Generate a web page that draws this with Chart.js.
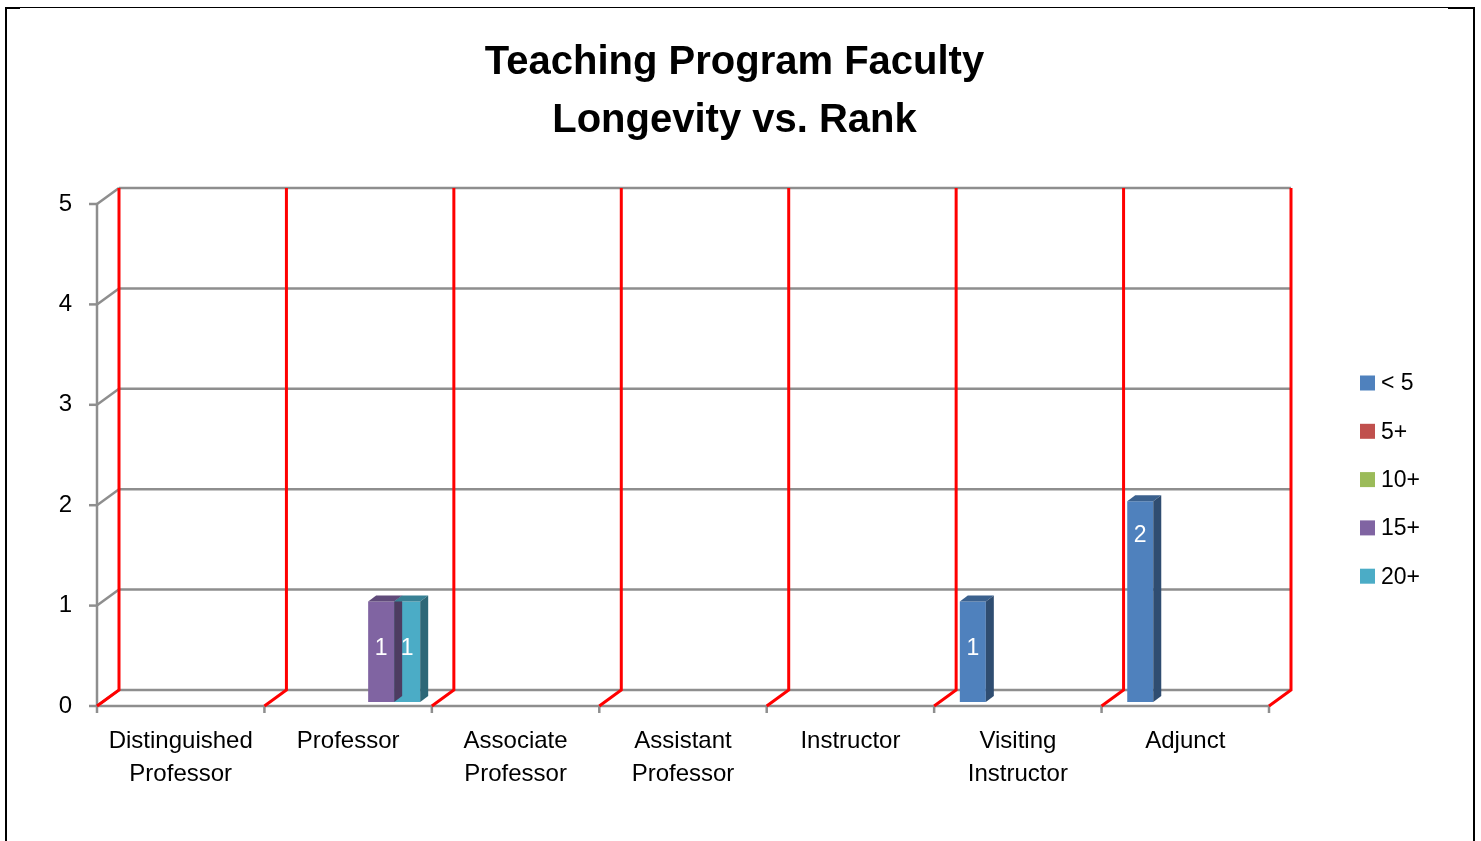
<!DOCTYPE html>
<html>
<head>
<meta charset="utf-8">
<script src="https://cdn.jsdelivr.net/npm/chart.js@4.4.1/dist/chart.umd.min.js"></script>
<style>
    html, body { margin: 0; padding: 0; background: #fff; }
    canvas { display: block; }
</style>
</head>
<body>
<canvas id="chart" width="1481" height="841"></canvas>
<script>
const categories = [
    ["Distinguished", "Professor"],
    "Professor",
    ["Associate", "Professor"],
    ["Assistant", "Professor"],
    "Instructor",
    ["Visiting", "Instructor"],
    "Adjunct",
];
const seriesNames = ["< 5", "5+", "10+", "15+", "20+"];
const seriesColors = ["#4F81BD", "#C0504D", "#9BBB59", "#8064A2", "#4BACC6"];
const under5 = [null, null, null, null, null, 1, 2];
const over5 = [null, null, null, null, null, null, null];
const over10 = [null, null, null, null, null, null, null];
const over15 = [null, 1, null, null, null, null, null];
const over20 = [null, 1, null, null, null, null, null];
const yTicks = [0, 1, 2, 3, 4, 5];

const FONT = '"Liberation Sans", Arial, sans-serif';
const DEPTH_X = 22, DEPTH_Y = -16;   // back wall offset
const BAR_DX = 7, BAR_DY = -4;       // bars sit a bit inside the box
const BAR_DEPTH_X = 8, BAR_DEPTH_Y = -6;

function shade(hex, f) {
    const n = parseInt(hex.slice(1), 16);
    const r = Math.round(((n >> 16) & 255) * f);
    const g = Math.round(((n >> 8) & 255) * f);
    const b = Math.round((n & 255) * f);
    return `rgb(${r},${g},${b})`;
}

function line(ctx, x1, y1, x2, y2) {
    ctx.beginPath();
    ctx.moveTo(x1, y1);
    ctx.lineTo(x2, y2);
    ctx.stroke();
}

const box3d = {
    id: "box3d",
    afterLayout(chart) {
        // title is centred over the plot + legend, not the plot alone
        chart.titleBlock.left = 0;
        chart.titleBlock.right = 1469;
    },
    beforeDatasetsDraw(chart) {
        const ctx = chart.ctx;
        const { left, right, top, bottom } = chart.chartArea;
        const xs = chart.scales.x, ys = chart.scales.y;
        const step = xs.getPixelForTick(1) - xs.getPixelForTick(0);
        const first = xs.getPixelForTick(0) - step / 2;
        ctx.save();
        ctx.lineCap = "butt";
        // grey walls and axes
        ctx.strokeStyle = "#8e8e8e";
        ctx.lineWidth = 2.5;
        yTicks.forEach((v) => {
            const yf = ys.getPixelForValue(v);
            line(ctx, left + DEPTH_X, yf + DEPTH_Y, right + DEPTH_X, yf + DEPTH_Y);
            line(ctx, left, yf, left + DEPTH_X, yf + DEPTH_Y);
            line(ctx, left - 8, yf, left, yf);
        });
        line(ctx, left, top, left, bottom);
        line(ctx, left, bottom, right, bottom);
        for (let i = 0; i <= categories.length; i++) {
            const bx = first + i * step;
            line(ctx, bx, bottom, bx, bottom + 7);
        }
        // red vertical gridlines on the back wall
        ctx.strokeStyle = "#ff0000";
        ctx.lineWidth = 3;
        for (let i = 0; i <= categories.length; i++) {
            const bx = first + i * step;
            ctx.beginPath();
            ctx.moveTo(bx, bottom);
            ctx.lineTo(bx + DEPTH_X, bottom + DEPTH_Y);
            ctx.lineTo(bx + DEPTH_X, top + DEPTH_Y);
            ctx.stroke();
        }
        ctx.restore();
        ctx.save();
        ctx.translate(BAR_DX, BAR_DY);
    },
    afterDatasetsDraw(chart) {
        const ctx = chart.ctx;
        chart.data.datasets.forEach((ds, di) => {
            const meta = chart.getDatasetMeta(di);
            meta.data.forEach((bar, i) => {
                const v = ds.data[i];
                if (!v) return;
                const { x, y, base, width } = bar.getProps(["x", "y", "base", "width"], true);
                const l = x - width / 2, r = x + width / 2;
                const col = seriesColors[di];
                ctx.fillStyle = shade(col, 0.75);
                ctx.beginPath();
                ctx.moveTo(l, y);
                ctx.lineTo(r, y);
                ctx.lineTo(r + BAR_DEPTH_X, y + BAR_DEPTH_Y);
                ctx.lineTo(l + BAR_DEPTH_X, y + BAR_DEPTH_Y);
                ctx.closePath();
                ctx.fill();
                ctx.fillStyle = shade(col, 0.6);
                ctx.beginPath();
                ctx.moveTo(r, y);
                ctx.lineTo(r + BAR_DEPTH_X, y + BAR_DEPTH_Y);
                ctx.lineTo(r + BAR_DEPTH_X, base + BAR_DEPTH_Y);
                ctx.lineTo(r, base);
                ctx.closePath();
                ctx.fill();
                ctx.fillStyle = "#ffffff";
                ctx.font = "23px " + FONT;
                ctx.textAlign = "center";
                ctx.textBaseline = "middle";
                ctx.fillText(String(v), x, y + 60 - (base - y) / 8);
            });
        });
        ctx.restore();
    },
    afterDraw(chart) {
        const ctx = chart.ctx;
        ctx.save();
        // legend
        ctx.font = "23px " + FONT;
        ctx.textAlign = "left";
        ctx.textBaseline = "middle";
        chart.data.datasets.forEach((ds, i) => {
            const cy = 383 + i * 48.3;
            ctx.fillStyle = ds.backgroundColor;
            ctx.fillRect(1360, cy - 7.5, 15, 15);
            ctx.fillStyle = "#000";
            ctx.fillText(ds.label, 1381, cy + 1);
        });
        // outer frame
        ctx.fillStyle = "#000";
        ctx.fillRect(5, 7, 1470, 1);
        ctx.fillRect(5, 7, 2, 834);
        ctx.fillRect(1473, 7, 2, 834);
        ctx.fillRect(5, 7, 15, 2);
        ctx.fillRect(1448, 7, 27, 2);
        ctx.restore();
    },
};

const datasets = [under5, over5, over10, over15, over20].map((d, i) => ({
    label: seriesNames[i],
    data: d,
    backgroundColor: seriesColors[i],
    borderWidth: 0,
}));

new Chart(document.getElementById("chart"), {
    type: "bar",
    data: { labels: categories, datasets: datasets },
    options: {
        responsive: false,
        animation: false,
        layout: { padding: { left: 0, right: 212, top: 0, bottom: 0 } },
        datasets: {
            bar: { categoryPercentage: 0.777, barPercentage: 1 },
        },
        scales: {
            x: {
                grid: { display: false, drawTicks: false },
                border: { display: false },
                ticks: {
                    color: "#000",
                    font: { family: FONT, size: 24, lineHeight: 1.375 },
                    maxRotation: 0,
                    autoSkip: false,
                    padding: 19,
                },
                afterFit(scale) { scale.height = 135; },
            },
            y: {
                min: 0,
                max: 5,
                grid: { display: false, drawTicks: false },
                border: { display: false },
                ticks: {
                    stepSize: 1,
                    color: "#000",
                    font: { family: FONT, size: 24 },
                    padding: 25,
                },
                afterFit(scale) { scale.width = 97; },
            },
        },
        plugins: {
            legend: { display: false },
            tooltip: { enabled: false },
            title: {
                display: true,
                text: ["Teaching Program Faculty", "Longevity vs. Rank"],
                color: "#000",
                font: { family: FONT, size: 40, weight: "bold", lineHeight: 1.45 },
                padding: { top: 34, bottom: 54 },
            },
        },
    },
    plugins: [box3d],
});
</script>
</body>
</html>
